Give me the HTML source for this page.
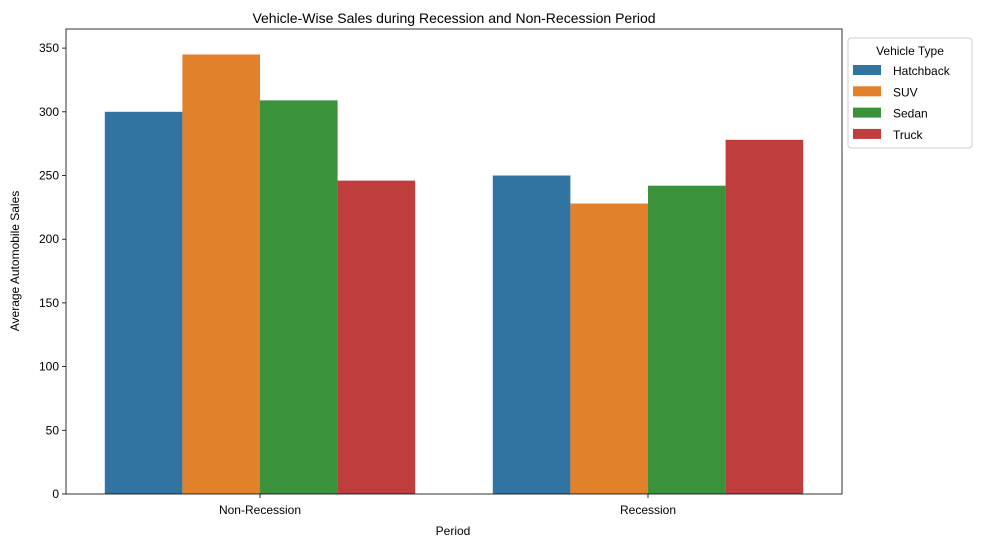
<!DOCTYPE html>
<html><head><meta charset="utf-8"><style>
body{margin:0;background:#fff;}
svg{font-family:"Liberation Sans","DejaVu Sans",sans-serif;}
</style></head><body>
<svg id="chart" width="981" height="547" xmlns="http://www.w3.org/2000/svg">
<text x="454" y="23" text-anchor="middle" font-size="14" fill="#000">Vehicle-Wise Sales during Recession and Non-Recession Period</text>
<g id="bars"></g>
<g id="axes"></g>
<text x="453" y="535" text-anchor="middle" font-size="12">Period</text>
<text transform="translate(19,261) rotate(-90)" text-anchor="middle" font-size="12">Average Automobile Sales</text>
<g id="legend">
<rect x="848" y="38" width="124" height="110" rx="3" fill="#fff" stroke="#ccc"/>
<text x="910" y="55" text-anchor="middle" font-size="12">Vehicle Type</text>
</g>
</svg>
<script>
const categories=["Non-Recession","Recession"];
const seriesNames=["Hatchback","SUV","Sedan","Truck"];
const hatchback=[300,250];
const suv=[345,228];
const sedan=[309,242];
const truck=[246,278];
const yTicks=[0,50,100,150,200,250,300,350];
const colors=["#3274a1","#e1812c","#3a923a","#c03d3e"];
const series=[hatchback,suv,sedan,truck];
const NS="http://www.w3.org/2000/svg";
const L=66,R=842,T=29,B=494,yMax=365;
const y=v=>B-(v/yMax)*(B-T);
const x=c=>L+(c+0.5)/categories.length*(R-L);
const step=(R-L)/categories.length;
const bw=step*0.8/seriesNames.length;
function mk(tag,attrs,parent){const e=document.createElementNS(NS,tag);for(const k in attrs)e.setAttribute(k,attrs[k]);parent.appendChild(e);return e;}
const bars=document.getElementById("bars"),axes=document.getElementById("axes"),legend=document.getElementById("legend");
series.forEach((s,si)=>{s.forEach((v,ci)=>{
 const x0=x(ci)-step*0.4+si*bw;
 const r=mk("rect",{x:x0,y:y(v),width:bw,height:B-y(v),fill:colors[si]},bars);
 
 
});});
const frame=mk("rect",{x:L,y:T,width:R-L,height:B-T,fill:"none",stroke:"#000","stroke-width":0.8},axes);


yTicks.forEach(t=>{
 mk("line",{x1:L-4,x2:L,y1:y(t),y2:y(t),stroke:"#000","stroke-width":0.8},axes);
 const tx=mk("text",{x:L-7,y:y(t)+4,"text-anchor":"end","font-size":12},axes);
 tx.textContent=t;
 
 
});
categories.forEach((c,ci)=>{
 mk("line",{x1:x(ci),x2:x(ci),y1:B,y2:B+4,stroke:"#000","stroke-width":0.8},axes);
 const tx=mk("text",{x:x(ci),y:B+20,"text-anchor":"middle","font-size":12},axes);
 tx.textContent=c;
 
 
});
seriesNames.forEach((n,i)=>{
 const yy=65+i*21.3;
 const p=mk("rect",{x:853,y:yy,width:28,height:10,fill:colors[i]},legend);
 
 
 const tx=mk("text",{x:893,y:yy+10,"font-size":12},legend);
 tx.textContent=n;
 
 
});
</script>
</body></html>
